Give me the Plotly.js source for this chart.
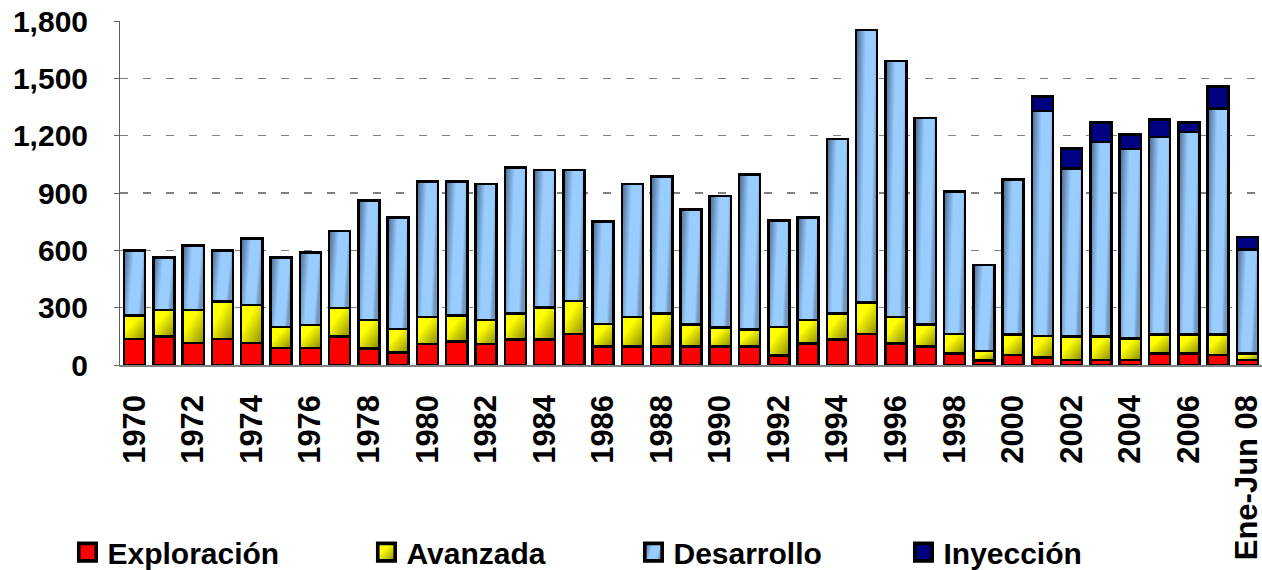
<!DOCTYPE html>
<html>
<head>
<meta charset="utf-8">
<script src="https://cdn.plot.ly/plotly-3.0.1.min.js"></script>
<style>
  html, body { margin: 0; padding: 0; background: #ffffff; }
  #chart { width: 1262px; height: 570px; }
</style>
</head>
<body>
<div id="chart"></div>
<script>
const categories = ['1970','1971','1972','1973','1974','1975','1976','1977','1978','1979',
  '1980','1981','1982','1983','1984','1985','1986','1987','1988','1989',
  '1990','1991','1992','1993','1994','1995','1996','1997','1998','1999',
  '2000','2001','2002','2003','2004','2005','2006','2007','Ene-Jun 08'];

const exploracion = [135,149,114,135,114,88,88,149,87,66,
  110,122,110,134,134,161,96,96,96,96,
  96,96,51,113,134,161,113,96,61,24,
  52,38,26,26,26,61,61,52,26];

const avanzada = [123,139,174,198,200,110,122,149,148,122,
  140,136,125,136,166,174,119,154,174,117,
  101,91,149,122,136,165,137,117,101,48,
  108,114,122,122,112,99,99,108,35];

const desarrollo = [342,275,338,267,349,365,378,403,625,585,
  710,702,713,763,721,686,535,698,716,600,
  687,809,557,536,913,1427,1342,1080,745,451,
  810,1177,881,1019,992,1032,1059,1183,544];

const inyeccion = [null,null,null,null,null,null,null,null,null,null,
  null,null,null,null,null,null,null,null,null,null,
  null,null,null,null,null,null,null,null,null,null,
  null,77,105,101,77,92,49,113,66];

const seriesNames = ['Exploración','Avanzada','Desarrollo','Inyección'];
const seriesColors = ['#FF0000','#FFFF00','#99CCFF','#000080'];
const legendWidths = [254, 222, 225, 200];

const xTickLabels = ['1970','1972','1974','1976','1978','1980','1982','1984','1986','1988',
  '1990','1992','1994','1996','1998','2000','2002','2004','2006','Ene-Jun 08'];

const yTicks = [0,300,600,900,1200,1500,1800];

const FONT = 'Liberation Sans, Arial, sans-serif';
const values = [exploracion, avanzada, desarrollo, inyeccion];

const traces = values.map((v, i) => ({
  type: 'bar',
  name: seriesNames[i],
  x: categories,
  y: v,
  legendwidth: legendWidths[i],
  marker: { color: seriesColors[i], line: { color: '#000000', width: 2.5 } },
  hoverinfo: 'x+y+name'
}));

const layout = {
  width: 1262,
  height: 570,
  margin: { l: 120, r: 0, t: 21, b: 205, autoexpand: false },
  paper_bgcolor: '#ffffff',
  plot_bgcolor: '#ffffff',
  barmode: 'stack',
  bargap: 0.28,
  showlegend: true,
  legend: {
    orientation: 'h',
    x: -0.046, xanchor: 'left',
    y: -0.544, yanchor: 'middle',
    font: { family: FONT, size: 30, color: '#000000', weight: 'bold' },
    traceorder: 'normal',
    itemclick: false
  },
  xaxis: {
    type: 'category',
    range: [-0.5, 38.5],
    tickmode: 'array',
    tickvals: xTickLabels,
    ticktext: xTickLabels,
    tickangle: -90,
    tickfont: { family: FONT, size: 31, color: '#000000', weight: 'bold' },
    ticks: '',
    ticklabelstandoff: 16,
    showline: true,
    linecolor: '#808080',
    linewidth: 1.5,
    showgrid: false,
    zeroline: false
  },
  yaxis: {
    range: [0, 1800],
    tickmode: 'array',
    tickvals: yTicks,
    tickformat: ',d',
    tickfont: { family: FONT, size: 30, color: '#000000', weight: 'bold' },
    ticks: 'outside',
    ticklen: 5,
    tickcolor: '#606060',
    ticklabelstandoff: 20,
    showline: true,
    linecolor: '#606060',
    linewidth: 1,
    showgrid: true,
    gridcolor: '#808080',
    gridwidth: 1.5,
    griddash: '8px,15px',
    zeroline: false
  }
};

// shading styles for the bar fills (gradient look of the original)
const gradients = [
  null,
  { id: 'gradYellow', x2: 1, y2: 1, stops: [[0, '#FFFF00'], [0.35, '#FFFF00'], [1, '#8A8A00']] },
  { id: 'gradBlue', x2: 1, y2: 0.25, stops: [[0, '#45668A'], [0.45, '#99CCFF'], [0.85, '#99CCFF'], [1, '#7296BC']] },
  null
];

Plotly.newPlot('chart', traces, layout, { displayModeBar: false, staticPlot: true }).then(() => {
  const NS = 'http://www.w3.org/2000/svg';
  const svg = document.querySelector('#chart .main-svg');
  let defs = svg.querySelector('defs');
  if (!defs) { defs = document.createElementNS(NS, 'defs'); svg.insertBefore(defs, svg.firstChild); }
  gradients.forEach(g => {
    if (!g) return;
    const lg = document.createElementNS(NS, 'linearGradient');
    lg.setAttribute('id', g.id);
    lg.setAttribute('x1', '0'); lg.setAttribute('y1', '0');
    lg.setAttribute('x2', String(g.x2)); lg.setAttribute('y2', String(g.y2));
    g.stops.forEach(s => {
      const st = document.createElementNS(NS, 'stop');
      st.setAttribute('offset', String(s[0]));
      st.setAttribute('stop-color', s[1]);
      lg.appendChild(st);
    });
    defs.appendChild(lg);
  });
  document.querySelectorAll('#chart .barlayer .trace').forEach((tr, i) => {
    const g = gradients[i];
    if (!g) return;
    tr.querySelectorAll('path').forEach(p => { p.style.fill = 'url(#' + g.id + ')'; });
  });
  document.querySelectorAll('#chart .legend [clip-path]').forEach(e => e.removeAttribute('clip-path'));
  document.querySelectorAll('#chart .legend .traces').forEach((tr, i) => {
    tr.querySelectorAll('.legendpoints path').forEach(p => {
      const t = p.getAttribute('transform') || '';
      p.setAttribute('transform', t + ' scale(1.45)');
      const g = gradients[i];
      if (g) p.style.fill = 'url(#' + g.id + ')';
    });
  });
});
</script>
</body>
</html>
